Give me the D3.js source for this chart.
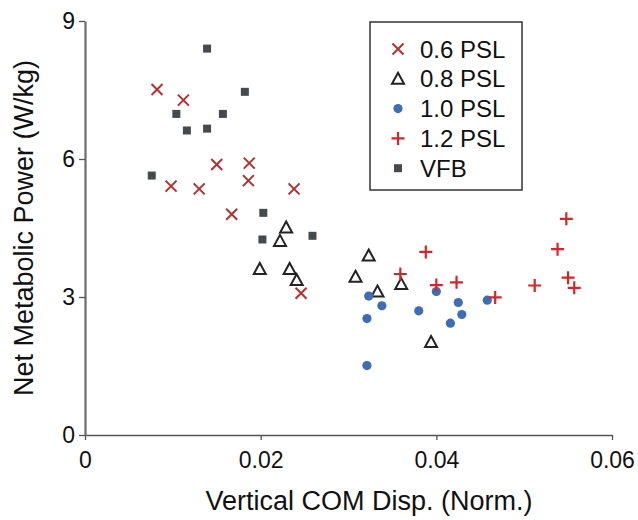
<!DOCTYPE html>
<html>
<head>
<meta charset="utf-8">
<script src="https://cdn.jsdelivr.net/npm/d3@7/dist/d3.min.js"></script>
<style>
  html, body { margin: 0; padding: 0; background: #fff; }
  svg text { font-family: "Liberation Sans", Arial, Helvetica, sans-serif; fill: #111; }
</style>
</head>
<body>
<svg id="chart" width="638" height="520"></svg>
<script>
// ---- data ----
const seriesNames = ["0.6 PSL", "0.8 PSL", "1.0 PSL", "1.2 PSL", "VFB"];
const xTicks = [0, 0.02, 0.04, 0.06];
const yTicks = [0, 3, 6, 9];

const psl06 = [
  [0.0082, 7.51], [0.0112, 7.28], [0.0150, 5.88], [0.0187, 5.91], [0.0186, 5.53],
  [0.0098, 5.41], [0.0130, 5.35], [0.0167, 4.80], [0.0238, 5.35], [0.0246, 3.08]
];
const psl08 = [
  [0.0229, 4.51], [0.0222, 4.22], [0.0199, 3.61], [0.0233, 3.61], [0.0241, 3.37],
  [0.0323, 3.90], [0.0308, 3.44], [0.0333, 3.12], [0.0360, 3.28], [0.0394, 2.02]
];
const psl10 = [
  [0.0323, 3.02], [0.0338, 2.81], [0.0321, 2.53], [0.0321, 1.51], [0.0380, 2.70],
  [0.0400, 3.12], [0.0425, 2.88], [0.0429, 2.62], [0.0416, 2.43], [0.0458, 2.93]
];
const psl12 = [
  [0.0388, 3.98], [0.0359, 3.50], [0.0400, 3.26], [0.0548, 4.70], [0.0538, 4.04],
  [0.0550, 3.42], [0.0557, 3.20], [0.0512, 3.25], [0.0423, 3.32], [0.0467, 2.99]
];
const vfb = [
  [0.0139, 8.40], [0.0182, 7.46], [0.0104, 6.98], [0.0157, 6.98], [0.0116, 6.62],
  [0.0139, 6.66], [0.0076, 5.64], [0.0203, 4.83], [0.0202, 4.25], [0.0259, 4.33]
];

// ---- layout ----
const svg = d3.select("#chart");
const x = d3.scaleLinear().domain([0, 0.06]).range([85, 612]);
const y = d3.scaleLinear().domain([0, 9]).range([435, 21]);

const colX = "#b3302f", colTri = "#222", colDot = "#3f6db3", colPlus = "#d3262b", colSq = "#474a4c";

// markers
function drawMarker(g, type) {
  if (type === "x") {
    const s = 5.5;
    g.append("path").attr("d", `M${-s},${-s}L${s},${s}M${-s},${s}L${s},${-s}`)
      .attr("stroke", colX).attr("stroke-width", 2).attr("fill", "none");
  } else if (type === "tri") {
    g.append("path").attr("d", "M0,-6L6,5L-6,5Z")
      .attr("stroke", colTri).attr("stroke-width", 2).attr("fill", "#fff").attr("stroke-linejoin", "miter");
  } else if (type === "dot") {
    g.append("circle").attr("r", 4.6).attr("fill", colDot);
  } else if (type === "plus") {
    const s = 6.5;
    g.append("path").attr("d", `M${-s},0L${s},0M0,${-s}L0,${s}`)
      .attr("stroke", colPlus).attr("stroke-width", 2.2).attr("fill", "none");
  } else if (type === "sq") {
    g.append("rect").attr("x", -4).attr("y", -4).attr("width", 8).attr("height", 8).attr("fill", colSq);
  }
}

const series = [
  { data: vfb, type: "sq" },
  { data: psl06, type: "x" },
  { data: psl08, type: "tri" },
  { data: psl10, type: "dot" },
  { data: psl12, type: "plus" }
];

// axes
const xAxis = d3.axisBottom(x).tickValues(xTicks)
  .tickFormat(d => d === 0 ? "0" : d3.format(".2f")(d))
  .tickSize(5).tickPadding(12).tickSizeOuter(0);
const yAxis = d3.axisLeft(y).tickValues(yTicks)
  .tickFormat(d3.format("d")).tickSize(6).tickPadding(4).tickSizeOuter(0);

const gx = svg.append("g").attr("transform", "translate(0,435)").call(xAxis);
gx.select(".domain").attr("stroke", "#555").attr("stroke-width", 1.6);
gx.selectAll(".tick line").attr("stroke", "#555").attr("stroke-width", 1.3);
gx.selectAll(".tick text").attr("font-size", 23).attr("fill", "#111");

const gy = svg.append("g").attr("transform", "translate(85,0)").call(yAxis);
gy.select(".domain").attr("stroke", "#6b6b6b").attr("stroke-width", 2.2);
gy.selectAll(".tick line").attr("stroke", "#555").attr("stroke-width", 1.3);
gy.selectAll(".tick text").attr("font-size", 23).attr("fill", "#111");

// points
series.forEach(s => {
  s.data.forEach(d => {
    const g = svg.append("g").attr("transform", `translate(${x(d[0])},${y(d[1])})`);
    drawMarker(g, s.type);
  });
});

// axis labels
svg.append("text").attr("x", 369).attr("y", 510).attr("text-anchor", "middle")
  .attr("font-size", 27).text("Vertical COM Disp. (Norm.)");
svg.append("text").attr("transform", "translate(33,228) rotate(-90)").attr("text-anchor", "middle")
  .attr("font-size", 27).text("Net Metabolic Power (W/kg)");

// legend
const leg = svg.append("g");
leg.append("rect").attr("x", 370).attr("y", 22).attr("width", 152).attr("height", 168)
  .attr("fill", "#fff").attr("stroke", "#333").attr("stroke-width", 1.5);
const legTypes = ["x", "tri", "dot", "plus", "sq"];
seriesNames.forEach((name, i) => {
  const cy = 49 + i * 29.8;
  const g = leg.append("g").attr("transform", `translate(398,${cy})`);
  drawMarker(g, legTypes[i]);
  leg.append("text").attr("x", 420).attr("y", cy).attr("dy", "0.36em")
    .attr("font-size", 24).text(name);
});
</script>
</body>
</html>
